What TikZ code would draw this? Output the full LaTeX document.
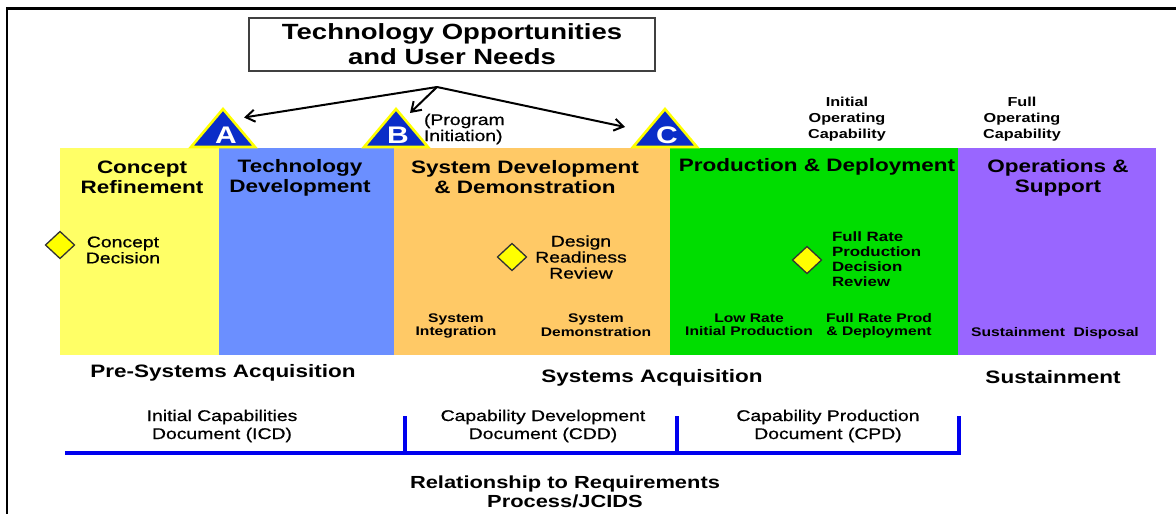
\documentclass[tikz,border=0pt]{standalone}
\usepackage{fontspec}
\setmainfont{Liberation Sans}[FakeStretch=1.25]
\newfontfamily\medfont{Liberation Sans}[FakeStretch=1.25,FakeBold=0.7]
\usetikzlibrary{arrows.meta,shapes.geometric}
\definecolor{colY}{HTML}{FFFF66}
\definecolor{colB}{HTML}{6B8FFF}
\definecolor{colO}{HTML}{FFC966}
\definecolor{colG}{HTML}{00DD00}
\definecolor{colP}{HTML}{9966FF}
\definecolor{triblue}{HTML}{0A2DC8}
\definecolor{triyel}{HTML}{FFFF00}
\definecolor{reqblue}{HTML}{0000EE}
\definecolor{diayel}{HTML}{FFFF00}
\begin{document}
\begin{tikzpicture}[x=1pt,y=-1pt,
  every node/.style={inner sep=0pt, outer sep=0pt, align=center},
  hdr/.style={font=\fontsize{18}{20}\selectfont\bfseries},
  midtxt/.style={font=\fontsize{15.5}{16}\selectfont\medfont},
  boldmid/.style={font=\fontsize{13.5}{14.8}\selectfont\bfseries},
  small/.style={font=\fontsize{12.5}{13.5}\selectfont\bfseries},
  doc/.style={font=\fontsize{15.5}{18}\selectfont\medfont},
  phase/.style={font=\fontsize{18}{19}\selectfont\bfseries},
  tri/.style={draw=triyel, fill=triblue, line width=2.6pt, line join=miter},
  letter/.style={font=\fontsize{24}{24}\selectfont\bfseries, text=white},
  dia/.style={draw=black!80, fill=diayel, line width=1.3pt, diamond, minimum width=29pt, minimum height=27pt, aspect=1.07},
  arr/.style={draw=black, line width=2pt, -{Straight Barb[length=9pt,width=12pt,line width=2pt]}},
  req/.style={draw=reqblue, line width=3.5pt}
]
\useasboundingbox (0,0) rectangle (1176,514);
% frame
\draw[line width=2.6pt] (7,514) -- (7,8.5) -- (1176,8.5);

% columns
\fill[colY] (60,148) rectangle (219,355);
\fill[colB] (219,148) rectangle (394,355);
\fill[colO] (394,148) rectangle (670,355);
\fill[colG] (670,148) rectangle (958,355);
\fill[colP] (958,148) rectangle (1156,355);

% title
\node[draw=black!75, line width=1.2pt, minimum width=406pt, minimum height=53pt,
      font=\fontsize{22}{25}\selectfont\bfseries] (title) at (452,44.5)
  {Technology Opportunities\\and User Needs};

% milestones
\draw[tri] (191,147) -- (223,109) -- (255,147) -- cycle;
\draw[tri] (364,147) -- (396,109) -- (428,147) -- cycle;
\draw[tri] (633,147) -- (665,109) -- (697,147) -- cycle;
\node[letter] (tA) at (226,135) {A};
\node[letter] (tB) at (398,135) {B};
\node[letter] (tC) at (667,135) {C};

\coordinate (apex) at (437,87);
\coordinate (endA) at (244,117.5);
\coordinate (endB) at (410,113);
\coordinate (endC) at (625,127);
\draw[arr] (apex) -- (endA);
\draw[arr] (apex) -- (endB);
\draw[arr] (apex) -- (endC);

\node[midtxt, anchor=west, align=left] (prog) at (424,129) {(Program\\Initiation)};

\node[boldmid, font=\fontsize{13}{16}\selectfont\bfseries] (ioc) at (847,119) {Initial\\Operating\\Capability};
\node[boldmid, font=\fontsize{13}{16}\selectfont\bfseries] (foc) at (1022,119) {Full\\Operating\\Capability};

% headers
\node[hdr] (cr) at (142,177) {Concept\\Refinement};
\node[hdr] (td) at (300,178) {Technology\\Development};
\node[hdr] (sdd) at (525,177) {System Development\\\& Demonstration};
\node[hdr] (pd) at (817,167) {Production \& Deployment};
\node[hdr] (os) at (1058,178) {Operations \&\\Support};

% decision points
\node[dia] (d1) at (60,245) {};
\node[midtxt] (cd) at (123,250) {Concept\\Decision};
\node[dia] (d2) at (512,257) {};
\node[midtxt] (drr) at (581,257) {Design\\Readiness\\Review};
\node[dia] (d3) at (807,260) {};
\node[boldmid, anchor=west, align=left] (frp) at (832,259) {Full Rate\\Production\\Decision\\Review};

% sub-phases
\node[small] (si) at (456,326) {System\\Integration};
\node[small] (sdm) at (596,325) {System\\Demonstration};
\node[small] (lrip) at (749,325) {Low Rate\\Initial Production};
\node[small] (frpd) at (879,326) {Full Rate Prod\\\& Deployment};
\node[small] (sus) at (1055,333) {Sustainment\ \ Disposal};

% phase labels
\node[phase] (psa) at (223,373) {Pre-Systems Acquisition};
\node[phase] (sa) at (652,378) {Systems Acquisition};
\node[phase] (sust) at (1053,377) {Sustainment};

% requirements
\node[doc] (icd) at (222,426) {Initial Capabilities\\Document (ICD)};
\node[doc] (cdd) at (543,426) {Capability Development\\Document (CDD)};
\node[doc] (cpd) at (828,426) {Capability Production\\Document (CPD)};
\coordinate (r0) at (65,453);
\coordinate (r1) at (405,453);
\coordinate (r1t) at (405,416);
\coordinate (r2) at (677,453);
\coordinate (r2t) at (677,416);
\coordinate (r3) at (959,453);
\coordinate (r3t) at (959,416);
\draw[req] (r0) -- (r3) -- (r3t);
\draw[req] (r1) -- (r1t);
\draw[req] (r2) -- (r2t);
\node[phase, font=\fontsize{17.5}{19}\selectfont\bfseries] (rel) at (565,491.5) {Relationship to Requirements\\Process/JCIDS};
\end{tikzpicture}
\end{document}
